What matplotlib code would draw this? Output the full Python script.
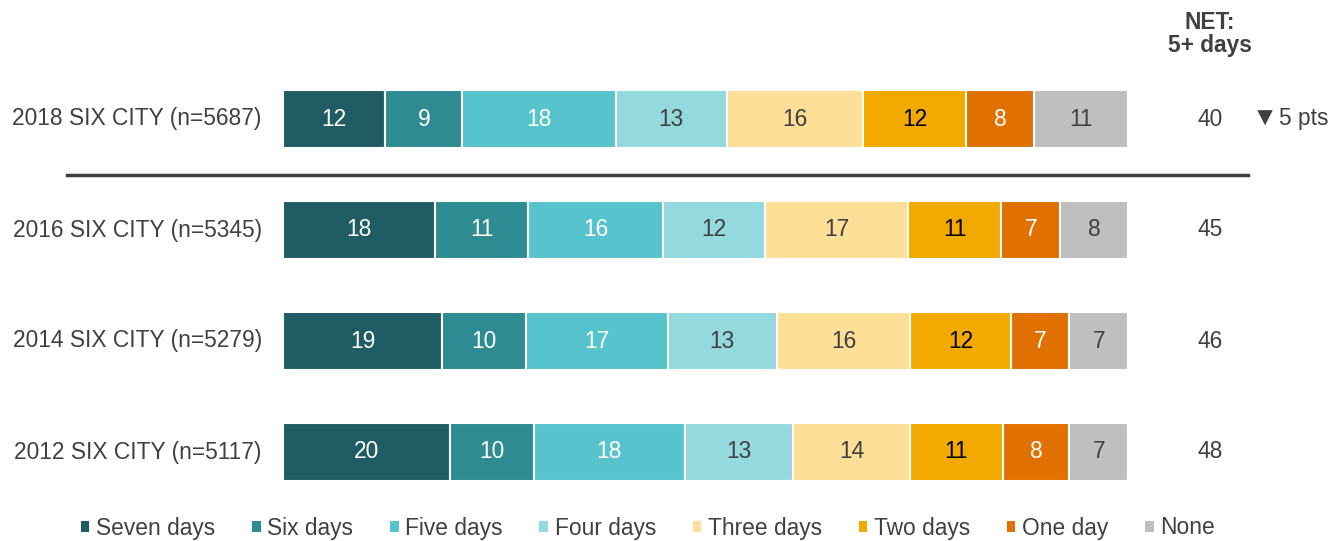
import matplotlib.pyplot as plt
import matplotlib.transforms as mtransforms
import numpy as np
from matplotlib.patches import Patch
from matplotlib.lines import Line2D

plt.rcParams['font.family'] = ['Liberation Sans', 'DejaVu Sans']

rows = ['2018 SIX CITY (n=5687)', '2016 SIX CITY (n=5345)',
        '2014 SIX CITY (n=5279)', '2012 SIX CITY (n=5117)']
categories = ['Seven days', 'Six days', 'Five days', 'Four days',
              'Three days', 'Two days', 'One day', 'None']
seven = [12, 18, 19, 20]
six = [9, 11, 10, 10]
five = [18, 16, 17, 18]
four = [13, 12, 13, 13]
three = [16, 17, 16, 14]
two = [12, 11, 12, 11]
one = [8, 7, 7, 8]
none = [11, 8, 7, 7]
net = [40, 45, 46, 48]
change = '5 pts'

colors = ['#1F5C63', '#2E8B92', '#57C4CD', '#93D9DE',
          '#FDDF97', '#F2A900', '#E07000', '#BFBFBF']
txt_colors = ['white', 'white', 'white', '#404040',
              '#404040', 'black', 'white', '#404040']

fs = 16.4

data = np.array([seven, six, five, four, three, two, one, none], dtype=float)
totals = data.sum(axis=0)
widths = data / totals * 100

fig = plt.figure(figsize=(13.4, 5.41), dpi=100)
ax = fig.add_axes([283/1340, 1-507.5/541, 845/1340, 444/541])

y = np.arange(len(rows))
left = np.zeros(len(rows))
for i, cat in enumerate(categories):
    ax.barh(y, widths[i], left=left, height=0.53, color=colors[i],
            edgecolor='white', linewidth=1.5, label=cat)
    for j in range(len(rows)):
        ax.text(left[j] + widths[i][j]/2, y[j], f'{int(data[i][j])}',
                ha='center', va='center', fontsize=fs, color=txt_colors[i])
    left += widths[i]

ax.set_xlim(0, 100)
ax.set_ylim(3.5, -0.5)
ax.axis('off')

# row labels and NET values
tr = ax.get_yaxis_transform()
for j, r in enumerate(rows):
    ax.text(-0.025, y[j], r, transform=tr, ha='right', va='center',
            fontsize=fs, color='#404040')
    ax.text(1.097, y[j], str(net[j]), transform=tr, ha='center', va='center',
            fontsize=fs, color='#404040')

ax.text(1.177, y[0], '\u25BC', transform=tr, ha='right', va='center',
        fontsize=19, color='#404040')
ax.text(1.179, y[0], change, transform=tr, ha='left', va='center',
        fontsize=fs, color='#404040')

fig.text(1210/1340, 1-34/541, 'NET:\n5+ days', ha='center', va='center',
         fontsize=fs, fontweight='bold', color='#404040', linespacing=1.05)

# separator between current year and earlier years
sep = Line2D([67/1340, 1248/1340], [0.5, 0.5], color='#404040', linewidth=2.5)
sep.set_transform(mtransforms.blended_transform_factory(fig.transFigure, ax.transData))
fig.add_artist(sep)

handles = [Patch(facecolor=c, edgecolor='none') for c in colors]
fig.legend(handles, categories, loc='center', bbox_to_anchor=(648/1340, 1-528/541),
           ncol=8, frameon=False, fontsize=fs, handlelength=0.38, handleheight=0.38,
           handletextpad=0.3, columnspacing=1.6, labelcolor='#404040')

plt.savefig('out.png', dpi=100)
